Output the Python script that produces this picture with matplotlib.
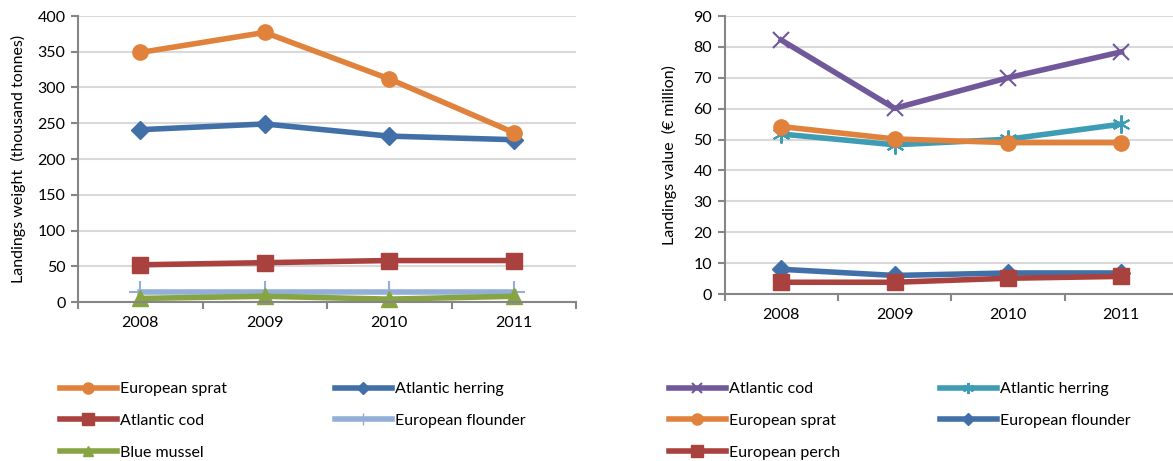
import matplotlib
matplotlib.use("Agg")
import matplotlib.pyplot as plt
from matplotlib.lines import Line2D

plt.rcParams['font.family'] = ['Lato', 'DejaVu Sans']

years = ['2008', '2009', '2010', '2011']

# landings weight (thousand tonnes)
w_sprat = [349, 377, 312, 237]
w_herring = [241, 249, 232, 227]
w_cod = [52, 55, 58, 58]
w_flounder = [14, 14, 14, 14]
w_mussel = [5, 8, 4, 8]

# landings value (EUR million)
v_cod = [82.2, 60.1, 70.0, 78.4]
v_herring = [51.8, 48.3, 50.1, 55.0]
v_sprat = [54.2, 50.2, 49.0, 49.0]
v_flounder = [8.0, 6.0, 6.8, 6.8]
v_perch = [3.8, 3.8, 5.1, 5.7]

ORANGE = '#E0823B'
BLUE = '#4170A8'
RED = '#A9423F'
LBLUE = '#93AFD8'
GREEN = '#87A443'
PURPLE = '#71589A'
TEAL = '#3E9CB4'
ASTER = (6, 2, 0)

W, H = 1173, 461
fig = plt.figure(figsize=(W / 100, H / 100), dpi=100)


def px_axes(x0, y_top, x1, y_bot):
    return fig.add_axes([x0 / W, 1 - y_bot / H, (x1 - x0) / W, (y_bot - y_top) / H])


def style(ax, ymax, ystep, xmax):
    x = [i + 0.5 for i in range(len(years))]
    ax.set_xlim(0, xmax)
    ax.set_ylim(0, ymax)
    ax.set_yticks(range(0, ymax + 1, ystep))
    ax.set_xticks(range(0, 5))
    ax.set_xticklabels([])
    ax.set_xticks(x, minor=True)
    ax.set_xticklabels(years, minor=True)
    ax.tick_params(axis='x', which='minor', length=0, pad=10, labelsize=11.5)
    ax.tick_params(axis='x', which='major', length=5, width=1.5, color='#868686', direction='out')
    ax.tick_params(axis='y', length=5, width=1.5, color='#868686', labelsize=11.5, pad=4)
    ax.grid(axis='y', color='#D9D9D9', lw=1.5)
    ax.set_axisbelow(True)
    for s in ['top', 'right']:
        ax.spines[s].set_visible(False)
    for s in ['left', 'bottom']:
        ax.spines[s].set_color('#868686')
        ax.spines[s].set_linewidth(1.5)
    return x


lw = 4
# left chart
ax1 = px_axes(78, 16, 576, 302)
x = style(ax1, 400, 50, 4)
ax1.plot(x, w_flounder, color=LBLUE, lw=lw, marker='+', ms=16, mew=1.5, label='European flounder', clip_on=False)
ax1.plot(x, w_mussel, color=GREEN, lw=lw, marker='^', ms=12, label='Blue mussel', clip_on=False)
ax1.plot(x, w_cod, color=RED, lw=lw, marker='s', ms=11, label='Atlantic cod')
ax1.plot(x, w_herring, color=BLUE, lw=lw, marker='D', ms=9, label='Atlantic herring')
ax1.plot(x, w_sprat, color=ORANGE, lw=lw, marker='o', ms=11, label='European sprat')
ax1.set_ylabel('Landings weight  (thousand tonnes)', fontsize=11.5, labelpad=8)

# right chart
ax2 = px_axes(724.6, 16, 1178, 294)
x = style(ax2, 90, 10, 4)
ax2.plot(x, v_flounder, color=BLUE, lw=lw, marker='D', ms=9, label='European flounder')
ax2.plot(x, v_perch, color=RED, lw=lw, marker='s', ms=11, label='European perch')
ax2.plot(x, v_herring, color=TEAL, lw=lw, marker=ASTER, ms=13, mew=1.5, label='Atlantic herring')
ax2.plot(x, v_sprat, color=ORANGE, lw=lw, marker='o', ms=11, label='European sprat')
ax2.plot(x, v_cod, color=PURPLE, lw=lw, marker='x', ms=12, mew=1.5, label='Atlantic cod')
ax2.set_ylabel('Landings value  (\u20ac million)', fontsize=11.5, labelpad=12)


def h(color, marker, ms, mew=1):
    return Line2D([], [], color=color, lw=4, marker=marker, ms=ms, mew=mew)


def col_legend(entries, x0, y0):
    handles = [h(*e[1:]) for e in entries]
    labels = [e[0] for e in entries]
    fig.legend(handles, labels, loc='upper left', bbox_to_anchor=(x0 / W, 1 - y0 / H),
               frameon=False, borderpad=0, borderaxespad=0, handlelength=3.55,
               handletextpad=0.2, labelspacing=1.1, fontsize=11.5)


col_legend([('European sprat', ORANGE, 'o', 8), ('Atlantic cod', RED, 's', 8),
            ('Blue mussel', GREEN, '^', 7)], 60, 382)
col_legend([('Atlantic herring', BLUE, 'D', 6), ('European flounder', LBLUE, '|', 8)], 335, 382)
col_legend([('Atlantic cod', PURPLE, 'x', 7, 1.5), ('European sprat', ORANGE, 'o', 8),
            ('European perch', RED, 's', 8)], 669, 382)
col_legend([('Atlantic herring', TEAL, ASTER, 8, 1.5), ('European flounder', BLUE, 'D', 6)], 940, 382)

fig.savefig('out.png', dpi=100)
